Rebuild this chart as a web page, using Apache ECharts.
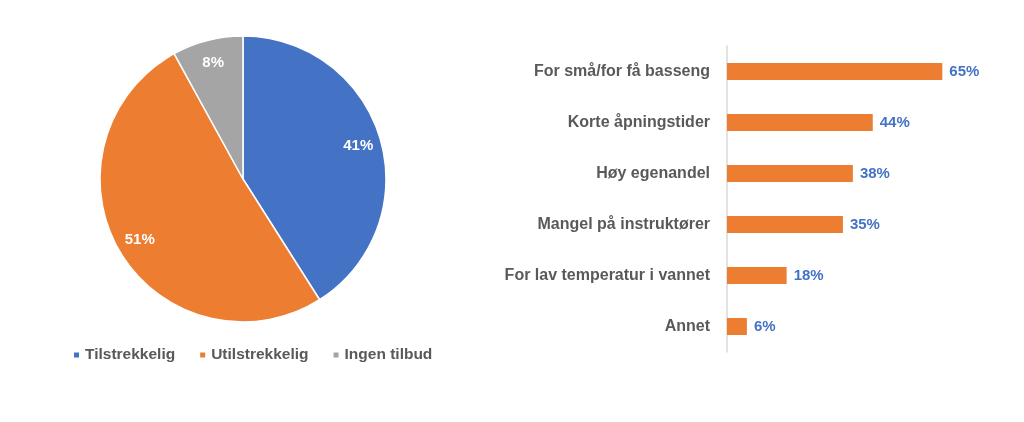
<!DOCTYPE html>
<html>
<head>
<meta charset="utf-8">
<script src="https://cdn.jsdelivr.net/npm/echarts@6/dist/echarts.min.js"></script>
<style>
html, body { margin: 0; padding: 0; background: #fff; }
#main { width: 1024px; height: 422px; }
</style>
</head>
<body>
<div id="main"></div>
<script>
// kake: tilbudet
var pieNames = ['Tilstrekkelig', 'Utilstrekkelig', 'Ingen tilbud'];
var pieValues = [41, 51, 8];
var pieColors = ['#4472C4', '#ED7D31', '#A5A5A5'];

// stolper: årsaker
var barCats = ['For små/for få basseng', 'Korte åpningstider', 'Høy egenandel',
    'Mangel på instruktører', 'For lav temperatur i vannet', 'Annet'];
var barValues = [65, 44, 38, 35, 18, 6];

var font = 'Liberation Sans';
var grey = '#595959';

var myChart = echarts.init(document.getElementById('main'));

var pieData = pieNames.map(function (n, i) {
    return { name: n, value: pieValues[i], itemStyle: { color: pieColors[i] } };
});

var option = {
    backgroundColor: '#ffffff',
    animation: false,
    legend: {
        left: 67,
        top: 342,
        orient: 'horizontal',
        icon: 'rect',
        itemWidth: 7,
        itemHeight: 7,
        itemGap: 23,
        textStyle: { color: grey, fontSize: 15.5, fontFamily: font, fontWeight: 'bold' },
        data: pieNames
    },
    grid: {
        left: 727,
        top: 46,
        width: 265,
        height: 306
    },
    xAxis: {
        type: 'value',
        min: 0,
        max: 80,
        show: false
    },
    yAxis: {
        type: 'category',
        inverse: true,
        data: barCats,
        axisTick: { show: false },
        axisLine: { show: true, lineStyle: { color: '#D9D9D9', width: 1.5 } },
        axisLabel: {
            margin: 17,
            color: grey,
            fontSize: 16,
            fontFamily: font,
            fontWeight: 'bold'
        }
    },
    series: [
        {
            type: 'pie',
            center: [243, 179],
            radius: 143,
            startAngle: 90,
            clockwise: true,
            label: { show: false },
            labelLine: { show: false },
            itemStyle: { borderColor: '#fff', borderWidth: 1.5 },
            data: pieData
        },
        {
            // bare for å plassere prosentene lenger ut i kaka
            type: 'pie',
            center: [243, 179],
            radius: [91, 143],
            startAngle: 90,
            clockwise: true,
            silent: true,
            legendHoverLink: false,
            itemStyle: { color: 'transparent', borderWidth: 0 },
            label: {
                show: true,
                position: 'inside',
                formatter: '{c}%',
                color: '#ffffff',
                fontSize: 15,
                fontFamily: font,
                fontWeight: 'bold'
            },
            labelLine: { show: false },
            data: pieNames.map(function (n, i) { return { name: n, value: pieValues[i] }; })
        },
        {
            type: 'bar',
            barWidth: 17,
            itemStyle: { color: '#ED7D31' },
            label: {
                show: true,
                position: 'right',
                distance: 7,
                formatter: '{c}%',
                color: '#4472C4',
                fontSize: 15,
                fontFamily: font,
                fontWeight: 'bold'
            },
            data: barValues
        }
    ]
};

myChart.setOption(option);
</script>
</body>
</html>
